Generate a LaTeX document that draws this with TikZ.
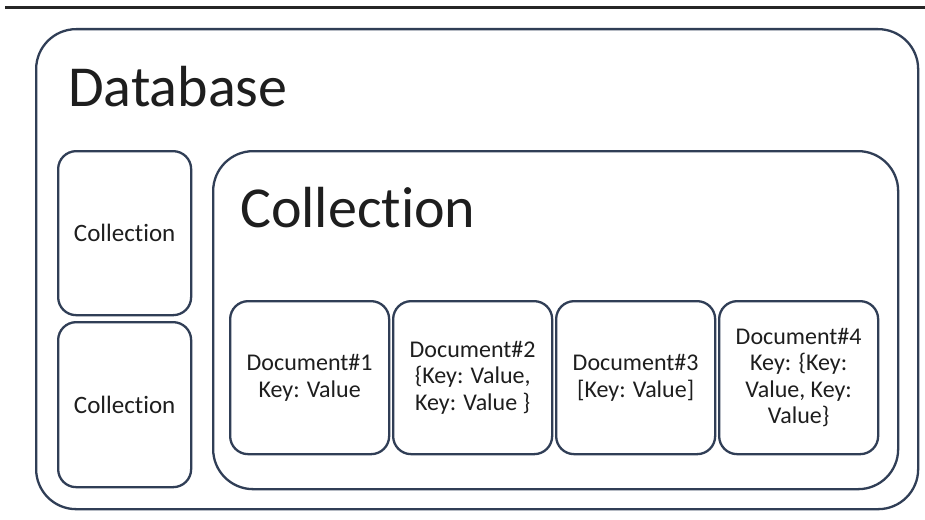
\documentclass[tikz,border=0pt]{standalone}
\usepackage{fontspec}
\setmainfont[Ligatures=NoCommon]{Carlito}
\definecolor{edge}{RGB}{48,62,86}
\definecolor{ink}{RGB}{30,30,30}
\begin{document}
\begin{tikzpicture}[x=1pt,y=-1pt,
  box/.style={draw=edge,line width=2.3pt,inner sep=0pt,anchor=north west,fill=white},
  bigbox/.style={box,rounded corners=40pt},
  smallbox/.style={box,rounded corners=18pt},
  doctext/.style={align=center,text=ink,font=\fontsize{24}{26.5}\selectfont},
  coltext/.style={text=ink,font=\fontsize{25}{27}\selectfont},
  title/.style={anchor=base west,inner sep=0pt,text=ink,font=\fontsize{58}{60}\selectfont}]
\useasboundingbox[fill=white] (0,0) rectangle (925,519);
\coordinate (barL) at (5,7.5);
\coordinate (barR) at (925,7.5);
\draw[line width=3pt,black!85] (barL) -- (barR);
\node[bigbox,minimum width=882pt,minimum height=480pt] (db) at (35,28) {};
\node[title] (dbt) at (68,106) {Database};
\node[smallbox,minimum width=133pt,minimum height=164pt] (c1) at (57,150) {};
\node[coltext] at (c1.center) {Collection};
\node[smallbox,minimum width=133pt,minimum height=165pt] (c2) at (57,321) {};
\node[coltext] at (c2.center) {Collection};
\node[bigbox,minimum width=685pt,minimum height=338pt] (cb) at (212,150) {};
\node[title] (cbt) at (240,227) {Collection};
\node[smallbox,minimum width=159pt,minimum height=153pt] (d1) at (229,300) {};
\node[smallbox,minimum width=159pt,minimum height=153pt] (d2) at (392,300) {};
\node[smallbox,minimum width=159pt,minimum height=153pt] (d3) at (555,300) {};
\node[smallbox,minimum width=159pt,minimum height=153pt] (d4) at (718,300) {};
\node[doctext] at (d1.center) {Document\#1\\Key: Value};
\node[doctext] at (d2.center) {Document\#2\\\{Key: Value,\\Key: Value \}};
\node[doctext] at (d3.center) {Document\#3\\{}[Key: Value]};
\node[doctext] at (d4.center) {Document\#4\\Key: \{Key:\\Value, Key:\\Value\}};
\end{tikzpicture}
\end{document}
